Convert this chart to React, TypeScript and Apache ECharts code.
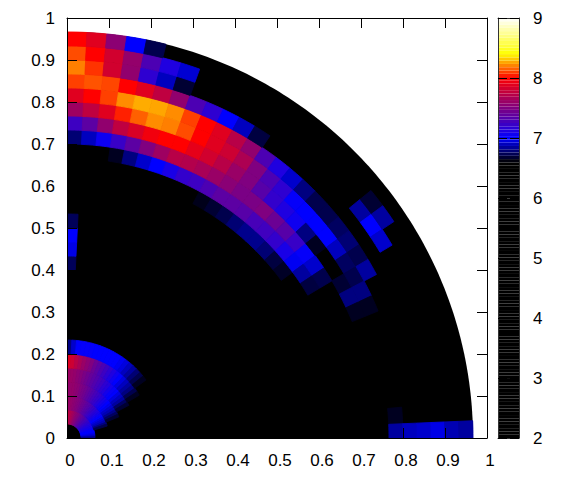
import React, { useEffect, useRef } from "react";
import * as echarts from "echarts";

// Each ring: runs of [first angular bin, values]. Ring number k spans r = k/30 .. (k+1)/30.
const ring01: [number, number[]][] = [[0, [7.8, 7.76, 7.72, 7.68, 7.65, 7.62, 7.58, 7.55, 7.52, 7.5, 7.46, 7.42, 7.4, 7.36, 7.33, 7.3, 7.27, 7.24, 7.2, 7.18, 7.15, 7.12, 7.1, 7.08, 7.05, 7.02, 7.0, 7.0, 6.98, 6.95, 6.9, 6.82]]];
const ring02: [number, number[]][] = [[0, [7.62, 7.6, 7.58, 7.56, 7.54, 7.52, 7.5, 7.47, 7.44, 7.42, 7.38, 7.35, 7.32, 7.28, 7.24, 7.2, 7.16, 7.12, 7.08, 7.04, 7.0, 6.96, 6.92, 6.88, 6.8, 6.72]]];
const ring03: [number, number[]][] = [[0, [7.58, 7.58, 7.58, 7.56, 7.54, 7.5, 7.47, 7.44, 7.4, 7.36, 7.32, 7.28, 7.24, 7.2, 7.15, 7.1, 7.05, 7.0, 6.97, 6.92, 6.88, 6.82, 6.75, 6.68]]];
const ring04: [number, number[]][] = [[0, [7.62, 7.6, 7.58, 7.55, 7.52, 7.48, 7.44, 7.4, 7.36, 7.32, 7.28, 7.24, 7.18, 7.14, 7.08, 7.03, 7.0, 6.95, 6.9, 6.85, 6.75, 6.68]]];
const ring05: [number, number[]][] = [[0, [7.88, 7.8, 7.72, 7.66, 7.6, 7.55, 7.5, 7.42, 7.36, 7.3, 7.24, 7.18, 7.12, 7.06, 7.0, 6.95, 6.9, 6.85, 6.8, 6.72, 6.65]]];
const ring06: [number, number[]][] = [[0, [6.8, 6.92, 7.0, 7.02, 7.02, 7.02, 7.0, 7.0, 7.0, 7.0, 7.0, 7.0, 6.98, 6.95, 6.9, 6.85, 6.78, 6.72, 6.65]]];
const ring12: [number, number[]][] = [[0, [6.74]]];
const ring13: [number, number[]][] = [[0, [6.96]]];
const ring14: [number, number[]][] = [[0, [7.0]]];
const ring15: [number, number[]][] = [[0, [6.74]]];
const ring19: [number, number[]][] = [[10, [6.64, 6.68, 6.72, 6.78, 6.82, 6.82, 6.78, 6.7, 6.66]]];
const ring20: [number, number[]][] = [[3, [6.65, 6.8, 6.92, 7.0, 7.1, 7.2, 7.24, 7.3, 7.36, 7.36, 7.34, 7.28, 7.25, 7.2, 7.1, 6.98, 6.85, 6.7]]];
const ring21: [number, number[]][] = [[0, [6.78, 6.9, 7.05, 7.22, 7.36, 7.5, 7.62, 7.72, 7.7, 7.66, 7.6, 7.54, 7.48, 7.48, 7.5, 7.42, 7.34, 7.22, 7.02, 6.92, 6.72]]];
const ring22: [number, number[]][] = [[0, [7.24, 7.36, 7.57, 7.75, 7.85, 7.95, 8.0, 8.0, 7.9, 7.82, 7.72, 7.6, 7.5, 7.34, 7.2, 7.12, 7.06, 6.8, 6.65]], [21, [6.68, 6.8, 6.65]]];
const ring23: [number, number[]][] = [[0, [7.62, 7.75, 7.88, 8.05, 8.15, 8.22, 8.2, 8.12, 8.0, 7.88, 7.8, 7.68, 7.5, 7.3, 7.18, 7.02, 7.0, 7.0, 7.0, 6.9, 6.75, 6.72, 6.8, 6.65]], [30, [6.65, 6.85]]];
const ring24: [number, number[]][] = [[0, [7.88, 8.0, 8.1, 8.22, 8.27, 8.26, 8.22, 8.1, 8.0, 7.88, 7.72, 7.57, 7.3, 7.12, 6.92, 6.8, 6.72, 6.72, 6.75, 6.78, 6.72, 6.85]], [31, [6.9]]];
const ring25: [number, number[]][] = [[0, [8.1, 8.13, 8.11, 8.0, 7.88, 7.75, 7.57, 7.3, 7.18, 7.0, 6.9, 6.7]], [31, [6.92]]];
const ring26: [number, number[]][] = [[0, [8.2, 8.08, 7.82, 7.57, 7.18, 6.9, 6.68]], [18, [6.85, 7.0, 6.92]], [31, [6.96]]];
const ring27: [number, number[]][] = [[0, [8.12, 8.0, 7.82, 7.58, 7.3, 7.12, 6.93]], [18, [6.68, 6.85]], [31, [6.88]]];
const ring28: [number, number[]][] = [[0, [8.0, 7.88, 7.55, 7.0, 6.72]], [31, [6.85]]];

const rings: [number, [number, number[]][]][] = [
  [1, ring01], [2, ring02], [3, ring03], [4, ring04], [5, ring05], [6, ring06],
  [12, ring12], [13, ring13], [14, ring14], [15, ring15],
  [19, ring19], [20, ring20], [21, ring21], [22, ring22], [23, ring23],
  [24, ring24], [25, ring25], [26, ring26], [27, ring27], [28, ring28],
];

const diskRadius = [29 / 30];
const ringWidth = 1 / 30;
const binAngle = 0.0493;
const cbarMin = 2;
const cbarMax = 9;
const cbarSteps = 128;

const stops: [number, number, number, number][] = [
  [2, 0, 0, 0],
  [6.6, 0, 0, 0],
  [7, 0, 0, 255],
  [8, 255, 0, 0],
  [8.4, 255, 255, 0],
  [9, 255, 255, 255],
];

function colorOf(v: number): string {
  for (let i = 1; i < stops.length; i++) {
    const a = stops[i - 1];
    const b = stops[i];
    if (v <= b[0]) {
      const t = (v - a[0]) / (b[0] - a[0]);
      const c = [1, 2, 3].map((n) => Math.round(a[n] + (b[n] - a[n]) * t));
      return `rgb(${c[0]},${c[1]},${c[2]})`;
    }
  }
  return "#fff";
}

const cellData: number[][] = [];
rings.forEach(([k, runs]) =>
  runs.forEach(([start, vals]) => vals.forEach((v, i) => cellData.push([k, start + i, v])))
);
const cbarData = Array.from({ length: cbarSteps }, (_, i) => [i]);

const fontFamily = "'Liberation Sans', Arial, sans-serif";
const labelBase = { color: "#000", fontSize: 17, fontFamily };
const lineBase = { show: true, onZero: false, lineStyle: { color: "#000", width: 1 } };
const tickBase = { show: true, inside: true, length: 10, lineStyle: { color: "#000", width: 1 } };

function mainAxis(position: string, labelled: boolean, extra: object) {
  return {
    type: "value",
    position,
    min: 0,
    max: 1,
    interval: 0.1,
    z: 6,
    axisLine: lineBase,
    axisTick: tickBase,
    splitLine: { show: false },
    axisLabel: labelled ? { ...labelBase, ...extra } : { show: false },
  };
}

function cbarAxis(position: string, labelled: boolean) {
  return {
    type: "value",
    gridIndex: 1,
    position,
    min: cbarMin,
    max: cbarMax,
    interval: 1,
    z: 6,
    axisLine: { ...lineBase, lineStyle: { color: "#333", width: 1 } },
    axisTick: { ...tickBase, length: 9 },
    splitLine: { show: false },
    axisLabel: labelled ? { ...labelBase, margin: 14 } : { show: false },
  };
}

export default function App() {
  const ref = useRef<HTMLDivElement>(null);
  useEffect(() => {
    const chart = echarts.init(ref.current!, null, { renderer: "svg" });
    chart.setOption({
      animation: false,
      backgroundColor: "#fff",
      grid: [
        { left: 67, top: 18, width: 420, height: 420 },
        { left: 498, top: 18, width: 21, height: 420 },
      ],
      xAxis: [
        mainAxis("bottom", true, { margin: 14, padding: [0, 0, 0, 6] }),
        mainAxis("top", false, {}),
        {
          type: "value",
          gridIndex: 1,
          position: "bottom",
          min: 0,
          max: 1,
          z: 6,
          axisLine: { ...lineBase, lineStyle: { color: "#333", width: 1 } },
          axisTick: { show: false },
          axisLabel: { show: false },
          splitLine: { show: false },
        },
        {
          type: "value",
          gridIndex: 1,
          position: "top",
          min: 0,
          max: 1,
          z: 6,
          axisLine: { ...lineBase, lineStyle: { color: "#333", width: 1 } },
          axisTick: { show: false },
          axisLabel: { show: false },
          splitLine: { show: false },
        },
      ],
      yAxis: [
        mainAxis("left", true, { margin: 12 }),
        mainAxis("right", false, {}),
        cbarAxis("left", false),
        cbarAxis("right", true),
      ],
      series: [
        {
          type: "custom",
          xAxisIndex: 0,
          yAxisIndex: 0,
          z: 1,
          silent: true,
          clip: true,
          data: diskRadius.map((r) => [r]),
          renderItem: (_: any, api: any) => {
            const r = api.value(0);
            const pts: number[][] = [api.coord([0, 0])];
            for (let i = 0; i <= 120; i++) {
              const t = (i / 120) * (Math.PI / 2);
              pts.push(api.coord([r * Math.sin(t), r * Math.cos(t)]));
            }
            return { type: "polygon", shape: { points: pts }, style: { fill: "#000" } };
          },
        },
        {
          type: "custom",
          xAxisIndex: 0,
          yAxisIndex: 0,
          z: 2,
          silent: true,
          clip: true,
          data: cellData,
          renderItem: (_: any, api: any) => {
            const k = api.value(0);
            const j = api.value(1);
            const v = api.value(2);
            const r0 = k * ringWidth;
            const r1 = r0 + ringWidth;
            const t0 = j * binAngle;
            const t1 = j === 31 ? Math.PI / 2 : (j + 1) * binAngle;
            const pts: number[][] = [];
            const n = 4;
            for (let i = 0; i <= n; i++) {
              const t = t0 + ((t1 - t0) * i) / n;
              pts.push(api.coord([r1 * Math.sin(t), r1 * Math.cos(t)]));
            }
            for (let i = n; i >= 0; i--) {
              const t = t0 + ((t1 - t0) * i) / n;
              pts.push(api.coord([r0 * Math.sin(t), r0 * Math.cos(t)]));
            }
            const c = colorOf(v);
            return {
              type: "polygon",
              shape: { points: pts },
              style: { fill: c, stroke: c, lineWidth: 0.9 },
            };
          },
        },
        {
          type: "custom",
          xAxisIndex: 2,
          yAxisIndex: 2,
          z: 2,
          silent: true,
          data: cbarData,
          renderItem: (_: any, api: any) => {
            const i = api.value(0);
            const step = (cbarMax - cbarMin) / cbarSteps;
            const lo = cbarMin + i * step;
            const a = api.coord([0, lo + step]);
            const b = api.coord([1, lo]);
            return {
              type: "rect",
              shape: { x: a[0], y: a[1], width: b[0] - a[0], height: b[1] - a[1] },
              style: { fill: colorOf(lo + step / 2) },
            };
          },
        },
      ],
    });
    return () => chart.dispose();
  }, []);
  return (
    <div
      ref={ref}
      style={{ position: "fixed", left: 0, top: 0, width: 581, height: 480, background: "#fff" }}
    />
  );
}
